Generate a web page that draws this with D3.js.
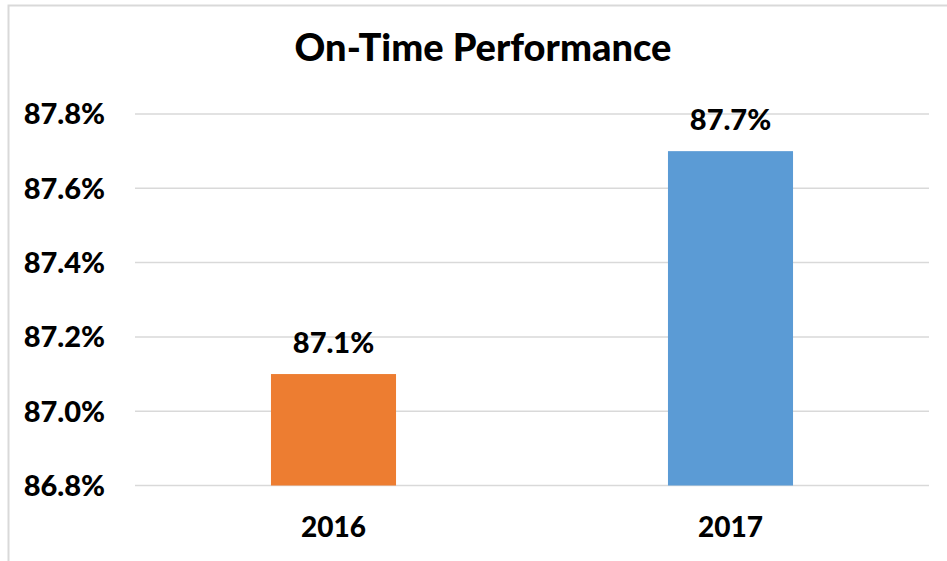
<!DOCTYPE html>
<html>
<head>
<meta charset="utf-8">
<script src="https://cdn.jsdelivr.net/npm/d3@7"></script>
<style>
  body { margin: 0; background: #fff; }
  text { font-family: Lato, "Open Sans", sans-serif; font-weight: 900; fill: #000; }
</style>
</head>
<body>
<script>
// chart data
const years = ["2016", "2017"];
const onTime = [87.1, 87.7];
const barColors = ["#ED7D31", "#5B9BD5"];
const yTicks = [86.8, 87.0, 87.2, 87.4, 87.6, 87.8];

function init() {
  const W = 947, H = 561;
  const svg = d3.select("body").append("svg")
    .attr("width", W)
    .attr("height", H);

  // outer chart border (runs off right/bottom)
  svg.append("path")
    .attr("d", "M 8.5 561 V 5.5 H 947")
    .attr("stroke", "#D9D9D9")
    .attr("stroke-width", 2)
    .attr("fill", "none");

  const left = 135, right = 929, top = 114, bottom = 485.5;

  const x = d3.scaleBand()
    .domain(years)
    .range([left, right])
    .paddingInner(0.685)
    .paddingOuter(0.3425);

  const y = d3.scaleLinear()
    .domain([86.8, 87.8])
    .range([bottom, top]);

  // gridlines
  svg.append("g")
    .selectAll("line")
    .data(yTicks)
    .join("line")
    .attr("x1", left)
    .attr("x2", right)
    .attr("y1", d => y(d))
    .attr("y2", d => y(d))
    .attr("stroke", "#D9D9D9")
    .attr("stroke-width", 1.5);

  // y tick labels
  svg.append("g")
    .selectAll("text")
    .data(yTicks)
    .join("text")
    .attr("x", 105)
    .attr("y", d => y(d))
    .attr("dy", "0.36em")
    .attr("text-anchor", "end")
    .style("font-size", "29px")
    .text(d => d.toFixed(1) + "%");

  // bars
  svg.append("g")
    .selectAll("rect")
    .data(years)
    .join("rect")
    .attr("x", d => x(d))
    .attr("width", x.bandwidth())
    .attr("y", (d, i) => y(onTime[i]))
    .attr("height", (d, i) => y(86.8) - y(onTime[i]))
    .attr("fill", (d, i) => barColors[i]);

  // value labels
  svg.append("g")
    .selectAll("text")
    .data(years)
    .join("text")
    .attr("x", d => x(d) + x.bandwidth() / 2)
    .attr("y", (d, i) => y(onTime[i]) - 21)
    .attr("text-anchor", "middle")
    .style("font-size", "29px")
    .text((d, i) => onTime[i].toFixed(1) + "%");

  // category labels
  svg.append("g")
    .selectAll("text")
    .data(years)
    .join("text")
    .attr("x", d => x(d) + x.bandwidth() / 2)
    .attr("y", 537)
    .attr("text-anchor", "middle")
    .style("font-size", "28px")
    .text(d => d);

  // title
  svg.append("text")
    .attr("x", 483)
    .attr("y", 61)
    .attr("text-anchor", "middle")
    .style("font-size", "38px")
    .text("On-Time Performance");
}

init();
</script>
</body>
</html>
